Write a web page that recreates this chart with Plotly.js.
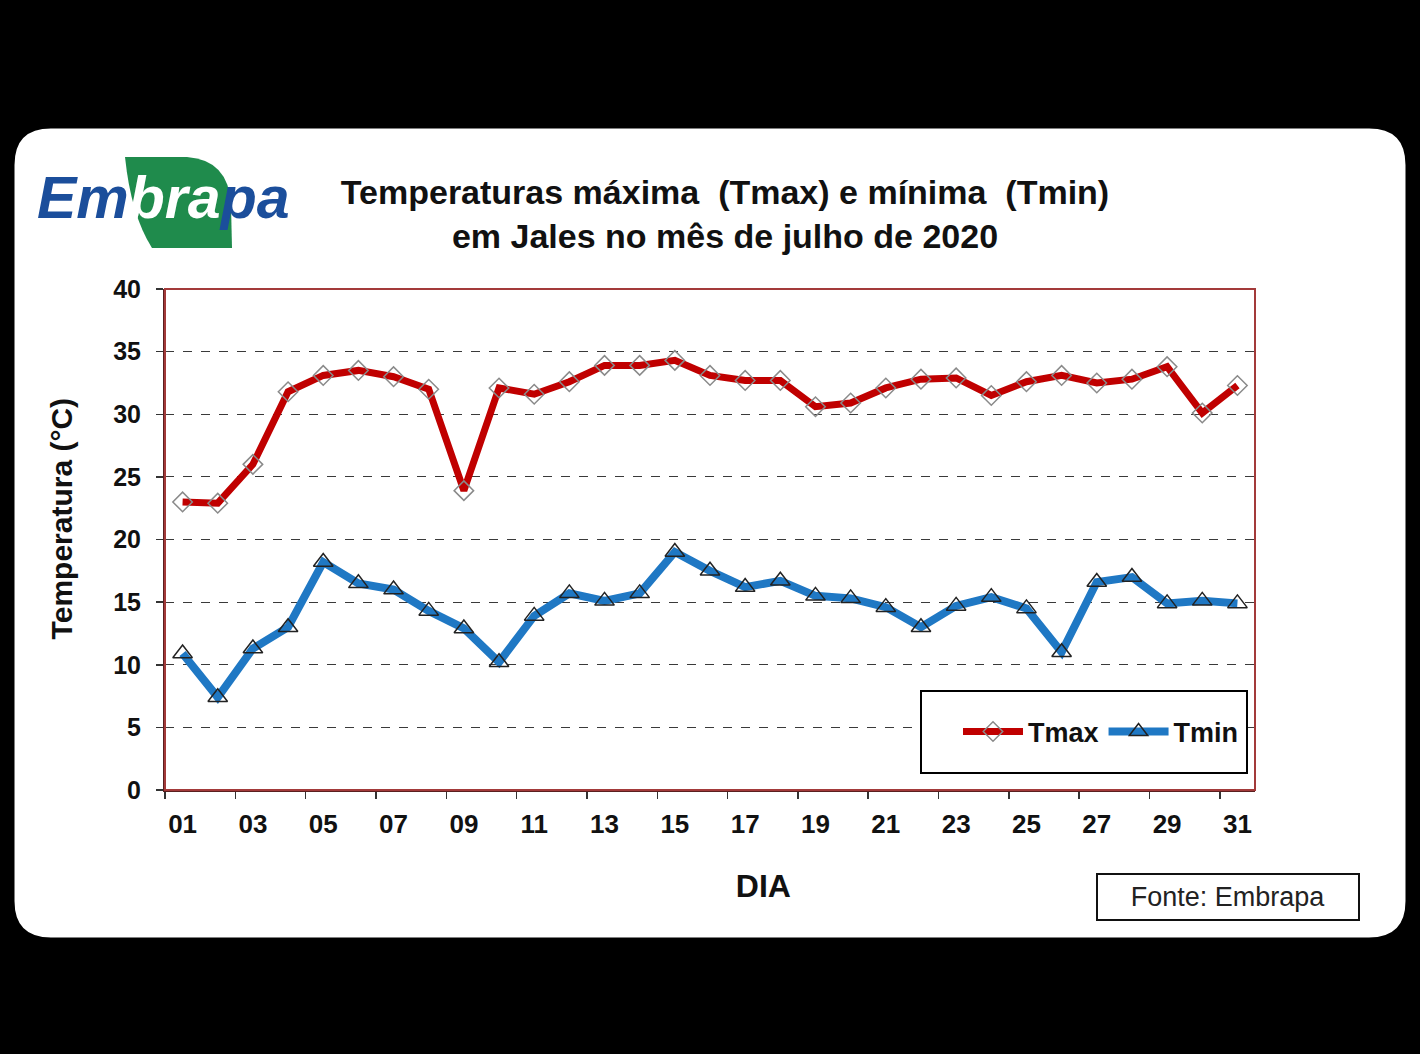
<!DOCTYPE html>
<html>
<head>
<meta charset="utf-8">
<script src="https://cdn.plot.ly/plotly-3.0.1.min.js"></script>
<style>
html,body{margin:0;padding:0;background:#000;}
#chart{width:1420px;height:1054px;}
</style>
</head>
<body>
<div id="chart"></div>
<script>
// ---- data ----
const days = ["01","02","03","04","05","06","07","08","09","10","11","12","13","14","15","16",
              "17","18","19","20","21","22","23","24","25","26","27","28","29","30","31"];
const tmax = [23.0,22.9,26.0,31.8,33.1,33.5,33.0,32.0,23.9,32.1,31.6,32.6,33.9,33.9,34.3,33.1,
              32.7,32.7,30.6,30.9,32.1,32.8,32.9,31.5,32.6,33.1,32.5,32.8,33.8,30.1,32.3];
const tmin = [10.9,7.4,11.3,13.0,18.2,16.5,16.0,14.3,12.9,10.2,13.9,15.7,15.1,15.7,19.0,17.5,
              16.2,16.7,15.5,15.3,14.6,13.0,14.7,15.4,14.5,11.0,16.6,17.0,14.9,15.1,14.9];
const seriesNames = ["Tmax","Tmin"];
const yTicks = [0,5,10,15,20,25,30,35,40];

// ---- layout helpers (pixel -> paper) ----
const L = 165, R = 1255, T = 289, B = 790;
const W = R - L, H = B - T;
const px = x => (x - L) / W;
const py = y => (B - y) / H;
const P = (x, y) => px(x).toFixed(5) + "," + py(y).toFixed(5);

function roundRect(x0, y0, x1, y1, r) {
  return "M" + P(x0 + r, y0) + " L" + P(x1 - r, y0) + " Q" + P(x1, y0) + " " + P(x1, y0 + r) +
         " L" + P(x1, y1 - r) + " Q" + P(x1, y1) + " " + P(x1 - r, y1) +
         " L" + P(x0 + r, y1) + " Q" + P(x0, y1) + " " + P(x0, y1 - r) +
         " L" + P(x0, y0 + r) + " Q" + P(x0, y0) + " " + P(x0 + r, y0) + " Z";
}
const leafPath = "M" + P(125, 157) + " L" + P(187, 157) + " Q" + P(229, 160) + " " + P(231, 205) +
                 " L" + P(232, 248) + " L" + P(152, 248) + " Q" + P(131, 215) + " " + P(125, 157) + " Z";

const FONT = "Liberation Sans, Arial, sans-serif";
const NB = n => "&nbsp;".repeat(n);

const traces = [
  {
    x: days, y: tmax, name: seriesNames[0], type: "scatter", mode: "lines+markers",
    line: {color: "#c00000", width: 7},
    marker: {symbol: "diamond-open", size: 15, color: "#8a8a8a", line: {width: 1.5, color: "#8a8a8a"}}
  },
  {
    x: days, y: tmin, name: seriesNames[1], type: "scatter", mode: "lines+markers",
    line: {color: "#1f78c4", width: 8},
    marker: {symbol: "triangle-up-open", size: 17, color: "#222222", line: {width: 1.5, color: "#222222"}}
  }
];

const layout = {
  width: 1420, height: 1054,
  paper_bgcolor: "#000000",
  plot_bgcolor: "#ffffff",
  margin: {l: L, r: 1420 - R, t: T, b: 1054 - B, pad: 0},
  font: {family: FONT, color: "#111111"},
  showlegend: true,
  title: {
    text: "Temperaturas máxima  (Tmax) e mínima  (Tmin)<br>em Jales no mês de julho de 2020",
    font: {family: FONT, size: 34, color: "#111111", weight: "bold"},
    xref: "container", yref: "container",
    x: 725 / 1420, xanchor: "center",
    y: 1 - 204 / 1054, yanchor: "middle"
  },
  xaxis: {
    type: "category",
    range: [-0.5, 30.5],
    tickmode: "linear", tick0: 0, dtick: 2,
    tickson: "boundaries",
    ticks: "outside", ticklen: 7, tickwidth: 1.5, tickcolor: "#333333",
    showgrid: false, zeroline: false,
    showline: true, linecolor: "#5a1f1f", linewidth: 2,
    tickfont: {family: FONT, size: 26, color: "#111111", weight: "bold"},
    ticklabelstandoff: 10,
    title: {text: NB(12) + "DIA", font: {family: FONT, size: 32, color: "#111111", weight: "bold"}, standoff: 36},
    fixedrange: true
  },
  yaxis: {
    range: [0, 40],
    tickmode: "array", tickvals: yTicks, ticktext: yTicks.map(String),
    ticks: "outside", ticklen: 7, tickwidth: 1.5, tickcolor: "#333333",
    showgrid: true, gridcolor: "#3a3a3a", gridwidth: 1.2, griddash: "dash",
    zeroline: false,
    showline: true, linecolor: "#5a1f1f", linewidth: 2,
    tickfont: {family: FONT, size: 25, color: "#111111", weight: "bold"},
    ticklabelstandoff: 10,
    title: {text: NB(5) + "Temperatura (°C)", font: {family: FONT, size: 30, color: "#111111", weight: "bold"}, standoff: 32},
    fixedrange: true
  },
  legend: {
    orientation: "h",
    x: px(1244), xanchor: "right", xref: "paper",
    y: py(732), yanchor: "middle", yref: "paper",
    bgcolor: "rgba(0,0,0,0)", borderwidth: 0,
    font: {family: FONT, size: 27, color: "#111111", weight: "bold"},
    itemwidth: 60, tracegroupgap: 0
  },
  shapes: [
    {type: "path", xref: "paper", yref: "paper", layer: "below",
     path: roundRect(11, 125, 1409, 941, 40),
     fillcolor: "#ffffff", line: {color: "#000000", width: 7}},
    {type: "path", xref: "paper", yref: "paper", layer: "below",
     path: leafPath, fillcolor: "#1f8b4c", line: {width: 0}},
    {type: "rect", xref: "paper", yref: "paper", layer: "above",
     x0: 0, x1: 1, y0: 0, y1: 1, line: {color: "#a33a3a", width: 2}},
    {type: "rect", xref: "paper", yref: "paper", layer: "above",
     x0: px(921), x1: px(1247), y0: py(773), y1: py(691),
     fillcolor: "#ffffff", line: {color: "#000000", width: 2}}
  ],
  annotations: [
    {xref: "paper", yref: "paper", x: px(163), y: py(198), xanchor: "center", yanchor: "middle",
     showarrow: false,
     text: "<b><i>Em<span style=\"color:#ffffff\">bra</span>pa</i></b>",
     font: {family: FONT, size: 59, color: "#1b4e9b"}},
    {xref: "paper", yref: "paper", x: px(1228), y: py(897), xanchor: "center", yanchor: "middle",
     showarrow: false, text: "Fonte: Embrapa",
     width: 258, height: 42, bordercolor: "#111111", borderwidth: 2, bgcolor: "#ffffff",
     font: {family: FONT, size: 27, color: "#222222"}}
  ]
};

Plotly.newPlot("chart", traces, layout, {displayModeBar: false, staticPlot: true});
</script>
</body>
</html>
